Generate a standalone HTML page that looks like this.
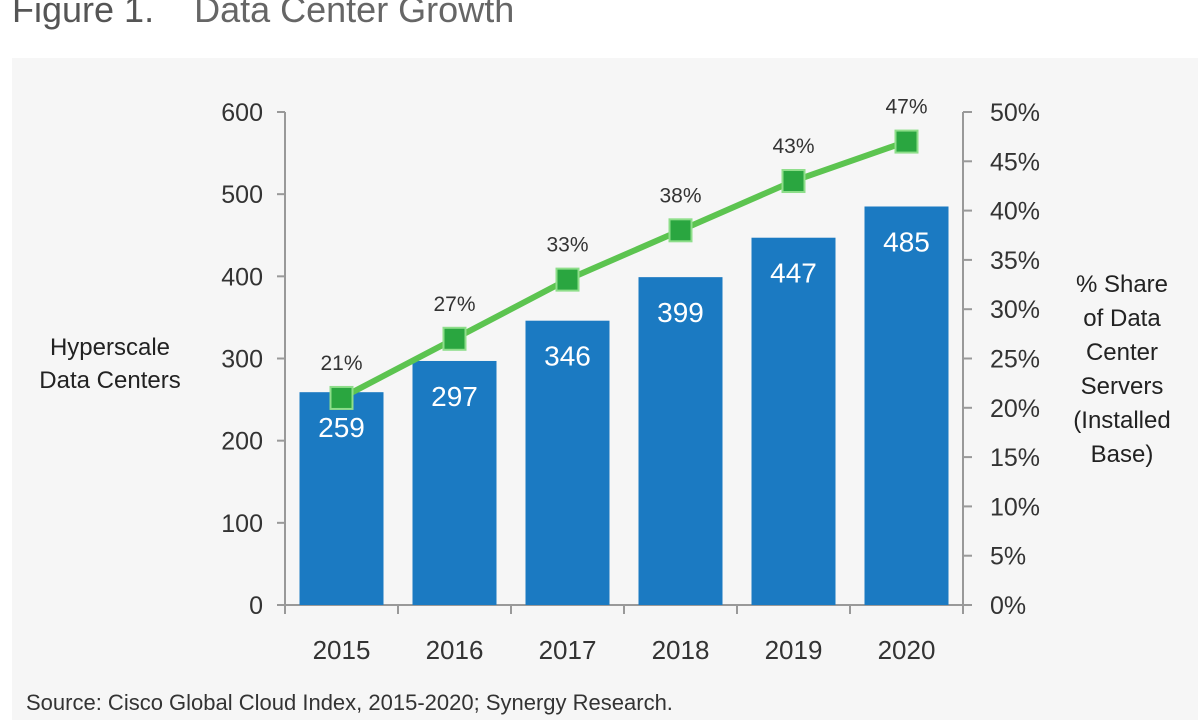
<!DOCTYPE html>
<html><head><meta charset="utf-8"><style>
body{margin:0;background:#fff;width:1200px;height:720px;overflow:hidden;font-family:"Liberation Sans",sans-serif}
svg{display:block}
</style></head><body>
<svg id="chart" width="1200" height="720" xmlns="http://www.w3.org/2000/svg">
<rect x="12" y="58" width="1186" height="662" fill="#f6f6f6"/>
<text x="12" y="22" font-size="36" fill="#555">Figure 1.<tspan dx="40" fill="#666">Data Center Growth</tspan></text>
<text x="110" y="355" font-size="24" fill="#222" text-anchor="middle"><tspan x="110">Hyperscale</tspan><tspan x="110" dy="33">Data Centers</tspan></text>
<text x="1122" y="292" font-size="24" fill="#222" text-anchor="middle"><tspan x="1122">% Share</tspan><tspan x="1122" dy="34">of Data</tspan><tspan x="1122" dy="34">Center</tspan><tspan x="1122" dy="34">Servers</tspan><tspan x="1122" dy="34">(Installed</tspan><tspan x="1122" dy="34">Base)</tspan></text>
<text x="26" y="710" font-size="22" fill="#333">Source: Cisco Global Cloud Index, 2015-2020; Synergy Research.</text>
<g id="g"></g>
</svg>
<script>
const categories=["2015","2016","2017","2018","2019","2020"];
const barValues=[259,297,346,399,447,485];
const shareValues=[21,27,33,38,43,47];
const leftTicks=[0,100,200,300,400,500,600];
const rightTicks=[0,5,10,15,20,25,30,35,40,45,50];
const NS="http://www.w3.org/2000/svg";
const g=document.getElementById('g');
const X0=285,X1=963,Y0=605,Y1=112;
const band=(X1-X0)/categories.length;
const yL=v=>Y0-(v/600)*(Y0-Y1);
const yR=v=>Y0-(v/50)*(Y0-Y1);
const xC=i=>X0+band*(i+0.5);
function mk(t,a){const e=document.createElementNS(NS,t);for(const k in a)e.setAttribute(k,a[k]);g.appendChild(e);return e;}
// axes
let e=mk('line',{x1:X0,y1:Y1,x2:X0,y2:Y0,stroke:'#999','stroke-width':2});


e=mk('line',{x1:X1,y1:Y1,x2:X1,y2:Y0,stroke:'#999','stroke-width':2});


e=mk('line',{x1:X0-8,y1:Y0,x2:X1+8,y2:Y0,stroke:'#999','stroke-width':2});


leftTicks.forEach(v=>{
 const t=mk('line',{x1:X0-8,y1:yL(v),x2:X0,y2:yL(v),stroke:'#999','stroke-width':2});
 
 
 const l=mk('text',{x:X0-22,y:yL(v)+9,'font-size':25,fill:'#333','text-anchor':'end'});
 l.textContent=v;
 
 
});
rightTicks.forEach(v=>{
 const t=mk('line',{x1:X1,y1:yR(v),x2:X1+9,y2:yR(v),stroke:'#999','stroke-width':2});
 
 
 const l=mk('text',{x:X1+27,y:yR(v)+9,'font-size':25,fill:'#333'});
 l.textContent=v+'%';
 
 
});
for(let i=0;i<=categories.length;i++){
 const t=mk('line',{x1:X0+band*i,y1:Y0,x2:X0+band*i,y2:Y0+9,stroke:'#999','stroke-width':2});
 
 
}
const bw=84;
categories.forEach((c,i)=>{
 const b=mk('rect',{x:xC(i)-bw/2,y:yL(barValues[i]),width:bw,height:Y0-yL(barValues[i]),fill:'#1b7ac2'});
 
 
 const v=mk('text',{x:xC(i),y:yL(barValues[i])+45,'font-size':28,fill:'#fff','text-anchor':'middle'});
 v.textContent=barValues[i];
 
 
 const l=mk('text',{x:xC(i),y:659,'font-size':26,fill:'#333','text-anchor':'middle'});
 l.textContent=c;
 
 
});
const pts=shareValues.map((v,i)=>xC(i)+','+yR(v)).join(' ');
const pl=mk('polyline',{points:pts,fill:'none',stroke:'#5cc450','stroke-width':6});


shareValues.forEach((v,i)=>{
 const m=mk('rect',{x:xC(i)-11,y:yR(v)-11,width:22,height:22,fill:'#2aa640',stroke:'#8ede8a','stroke-width':2});
 
 
 const l=mk('text',{x:xC(i),y:yR(v)-28,'font-size':21,fill:'#333','text-anchor':'middle'});
 l.textContent=v+'%';
 
 
});
</script>
</body></html>
